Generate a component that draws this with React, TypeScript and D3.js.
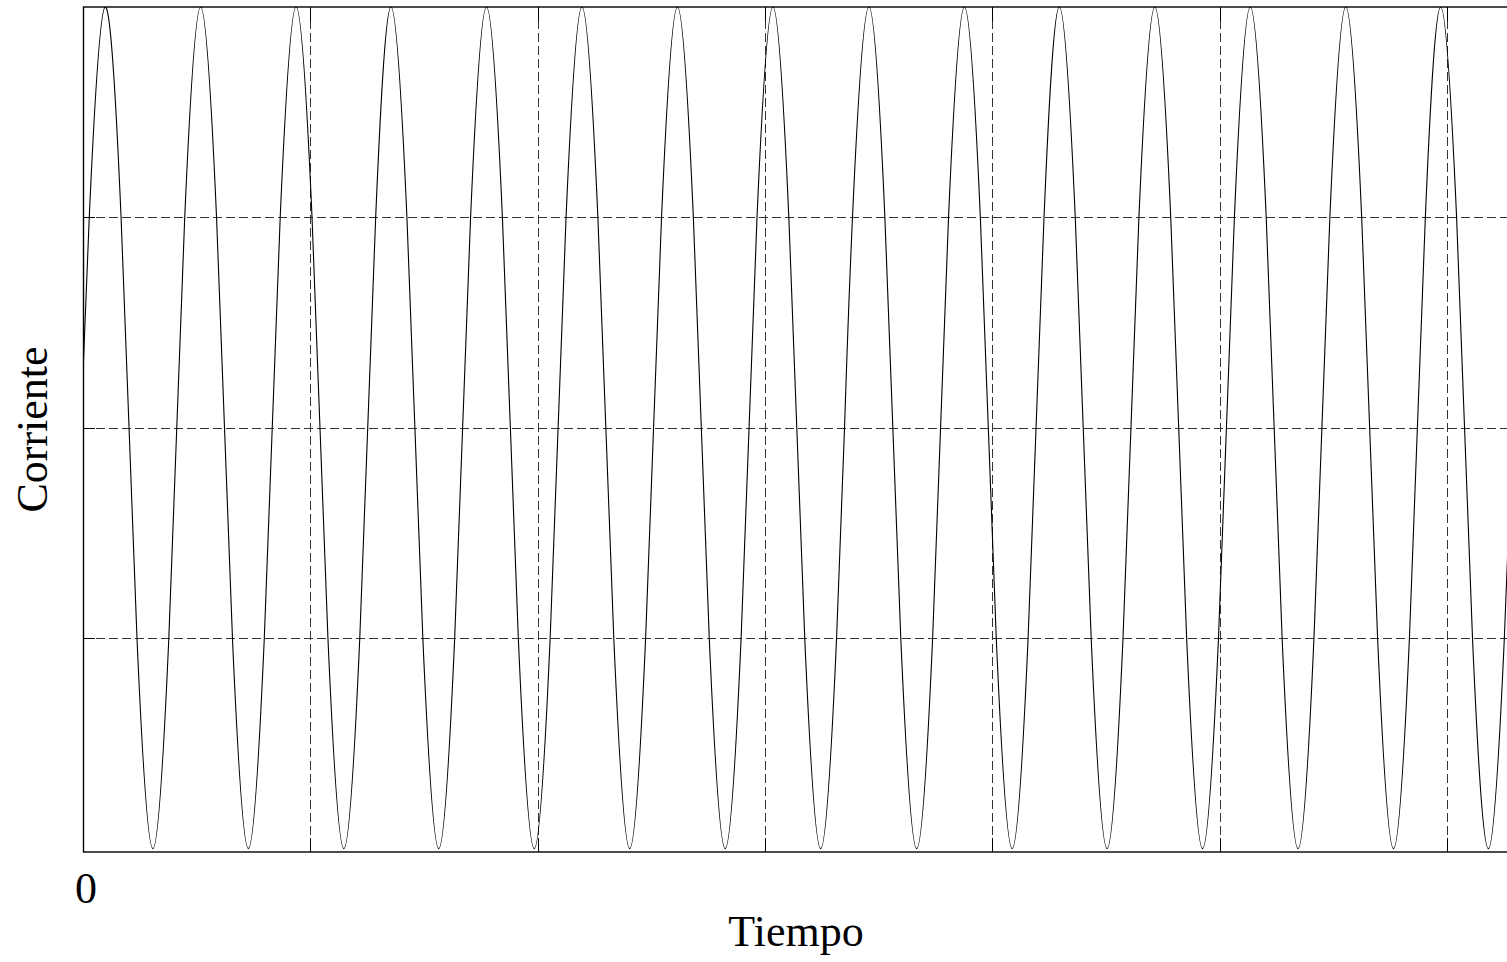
import React, { useRef, useEffect } from 'react';
import * as d3 from 'd3';

// Tiempo (ms) of each sample
const tiempo = [
  0, 1.1,
  3.9, 6.7, 8.1, 9.5, 12.3, 15.1, 16.5, 17.9,
  20.7, 23.5, 24.9, 26.3, 29.1, 31.9, 33.3, 34.7,
  37.5, 40.3, 41.7, 43.1, 45.9, 48.7, 50.1, 51.5,
  54.2, 57.0, 58.4, 59.8, 62.6, 65.4, 66.8, 68.2,
  71.0, 73.8, 75.2, 76.6, 79.4, 82.2, 83.6, 85.0,
  87.8, 90.6, 92.0, 93.4, 96.2, 99.0, 100.4, 101.8,
  104.6, 107.4, 108.8, 110.2, 113.0, 115.8, 117.2, 118.6,
  121.4, 124.2, 125.6, 127.0, 129.8, 132.6, 134.0, 135.4,
  138.3, 141.1, 142.5, 143.9, 146.7, 149.5, 150.9, 152.3,
  155.1, 157.9, 159.3, 160.7, 163.5, 166.3, 167.7, 169.1,
  171.8, 174.6, 176.0, 177.4, 180.2, 183.0, 184.4, 185.8,
  188.6, 191.4, 192.8, 194.2, 197.0, 199.8, 201.2, 202.6,
  205.4, 208.2, 209.6, 211.0, 213.8, 216.6, 218.0, 219.4,
  222.2, 225.0, 226.4, 227.8, 230.6, 233.4, 234.8, 236.2,
  238.9, 241.7, 243.1, 244.5, 247.3, 250.1, 251.5, 252.9,
  255.7,
];

// Corriente (normalised) at each sample
const corriente = [
  0.13, 0.5,
  1, 0.5, 0, -0.5, -1, -0.5, 0, 0.5,
  1, 0.5, 0, -0.5, -1, -0.5, 0, 0.5,
  1, 0.5, 0, -0.5, -1, -0.5, 0, 0.5,
  1, 0.5, 0, -0.5, -1, -0.5, 0, 0.5,
  1, 0.5, 0, -0.5, -1, -0.5, 0, 0.5,
  1, 0.5, 0, -0.5, -1, -0.5, 0, 0.5,
  1, 0.5, 0, -0.5, -1, -0.5, 0, 0.5,
  1, 0.5, 0, -0.5, -1, -0.5, 0, 0.5,
  1, 0.5, 0, -0.5, -1, -0.5, 0, 0.5,
  1, 0.5, 0, -0.5, -1, -0.5, 0, 0.5,
  1, 0.5, 0, -0.5, -1, -0.5, 0, 0.5,
  1, 0.5, 0, -0.5, -1, -0.5, 0, 0.5,
  1, 0.5, 0, -0.5, -1, -0.5, 0, 0.5,
  1, 0.5, 0, -0.5, -1, -0.5, 0, 0.5,
  1, 0.5, 0, -0.5, -1, -0.5, 0, 0.5,
  1,
];

const xTicks = [0, 40, 80, 120, 160, 200, 240];
const yTicks = [-0.5, 0, 0.5];
const xDomain = [0, 256.2];
const yDomain = [-1.008, 1];

const WIDTH = 1507;
const HEIGHT = 962;
const FONT = '"Times New Roman", "Liberation Serif", serif';

const App = () => {
  const svgRef = useRef<SVGSVGElement | null>(null);

  useEffect(() => {
    if (!svgRef.current) return;
    const svg = d3.select(svgRef.current);
    svg.selectAll('*').remove();

    const margin = { top: 7, left: 83, bottom: 110 };
    const x = d3.scaleLinear().domain(xDomain).range([margin.left, 1539]);
    const y = d3.scaleLinear().domain(yDomain).range([HEIGHT - margin.bottom, margin.top]);
    const [x0, x1] = x.range();
    const [yb, yt] = y.range();

    svg.append('clipPath')
      .attr('id', 'plot-clip')
      .append('rect')
      .attr('x', x0)
      .attr('y', yt)
      .attr('width', x1 - x0)
      .attr('height', yb - yt);

    // Dashed grid
    const grid = svg.append('g').attr('stroke', '#333').attr('stroke-width', 1).attr('stroke-dasharray', '9,4');
    grid.selectAll('.vg')
      .data(xTicks.slice(1))
      .enter()
      .append('line')
      .attr('x1', (d) => Math.round(x(d)) + 0.5)
      .attr('x2', (d) => Math.round(x(d)) + 0.5)
      .attr('y1', yt)
      .attr('y2', yb);
    grid.selectAll('.hg')
      .data(yTicks)
      .enter()
      .append('line')
      .attr('x1', x0)
      .attr('x2', x1)
      .attr('y1', (d) => Math.round(y(d)) + 0.5)
      .attr('y2', (d) => Math.round(y(d)) + 0.5);

    // Inward ticks
    const ticks = svg.append('g').attr('stroke', '#000').attr('stroke-width', 1);
    xTicks.slice(1).forEach((d) => {
      const px = Math.round(x(d)) + 0.5;
      ticks.append('line').attr('x1', px).attr('x2', px).attr('y1', yb).attr('y2', yb - 14);
      ticks.append('line').attr('x1', px).attr('x2', px).attr('y1', yt).attr('y2', yt + 14);
    });
    yTicks.forEach((d) => {
      const py = Math.round(y(d)) + 0.5;
      ticks.append('line').attr('x1', x0).attr('x2', x0 + 12).attr('y1', py).attr('y2', py);
    });

    // Waveform
    const puntos = tiempo.map((t, i) => [t, corriente[i]] as [number, number]);
    const line = d3.line<[number, number]>()
      .x((d) => x(d[0]))
      .y((d) => y(d[1]))
      .curve(d3.curveNatural);

    svg.append('path')
      .datum(puntos)
      .attr('clip-path', 'url(#plot-clip)')
      .attr('fill', 'none')
      .attr('stroke', '#000')
      .attr('stroke-width', 1.1)
      .attr('d', line);

    // Frame
    svg.append('rect')
      .attr('x', x0 + 0.5)
      .attr('y', yt)
      .attr('width', x1 - x0)
      .attr('height', yb - yt)
      .attr('fill', 'none')
      .attr('stroke', '#000')
      .attr('stroke-width', 1.4);

    // Labels
    svg.append('text')
      .attr('x', x(0) + 3)
      .attr('y', 903)
      .attr('text-anchor', 'middle')
      .style('font-family', FONT)
      .style('font-size', '44px')
      .text('0');

    svg.append('text')
      .attr('x', 796)
      .attr('y', 946)
      .attr('text-anchor', 'middle')
      .style('font-family', FONT)
      .style('font-size', '44px')
      .text('Tiempo');

    svg.append('text')
      .attr('transform', `translate(47, ${(yt + yb) / 2}) rotate(-90)`)
      .attr('text-anchor', 'middle')
      .style('font-family', FONT)
      .style('font-size', '44px')
      .text('Corriente');

    return () => {
      svg.selectAll('*').remove();
    };
  }, []);

  return (
    <svg
      ref={svgRef}
      width={WIDTH}
      height={HEIGHT}
      style={{ position: 'absolute', left: 0, top: 0, background: '#fff', display: 'block' }}
    />
  );
};

export default App;
